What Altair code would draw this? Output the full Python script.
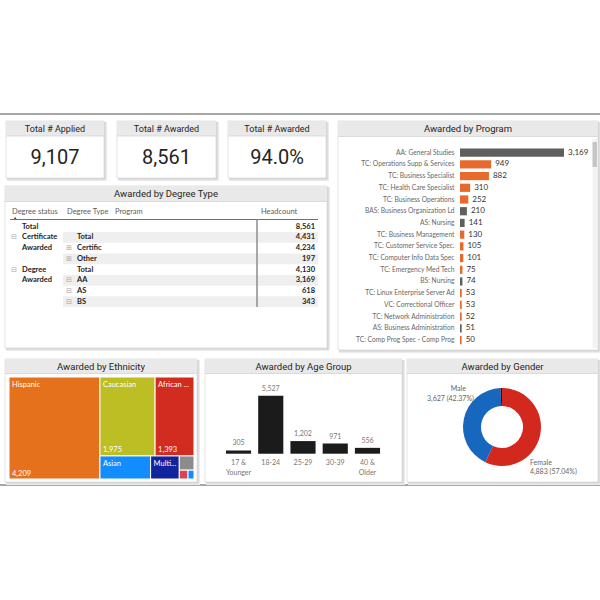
import altair as alt
import pandas as pd

# ---------------- data ----------------
applied = 9107
awarded = 8561

ds_labels = ["Total", "Certificate", "Awarded", "", "Degree", "Awarded", "", ""]
dt_labels = ["", "Total", "Certific", "Other", "Total", "AA", "AS", "BS"]
ds_icons = ["", "⊟", "", "", "⊟", "", "", ""]
dt_icons = ["", "", "⊞", "⊞", "", "⊟", "⊟", "⊟"]
headcount = [8561, 4431, 4234, 197, 4130, 3169, 618, 343]

prog_names = ["AA: General Studies", "TC: Operations Supp & Services", "TC: Business Specialist",
              "TC: Health Care Specialist", "TC: Business Operations", "BAS: Business Organization Ld",
              "AS: Nursing", "TC: Business Management", "TC: Customer Service Spec.",
              "TC: Computer Info Data Spec", "TC: Emergency Med Tech", "BS: Nursing",
              "TC: Linux Enterprise Server Ad", "VC: Correctional Officer", "TC: Network Administration",
              "AS: Business Administration", "TC: Comp Prog Spec - Comp Prog"]
prog_values = [3169, 949, 882, 310, 252, 210, 141, 130, 105, 101, 75, 74, 53, 53, 52, 51, 50]
degree_prefixes = ["AA", "AS", "BAS", "BS"]

eth_names = ["Hispanic", "Caucasian", "African American", "Asian", "Multiracial", "Unknown",
             "American Indian", "Pacific Islander"]
eth_short = ["Hispanic", "Caucasian", "African ...", "Asian", "Multi...", "", "", ""]
eth_values = [4209, 1975, 1393, 530, 300, 95, 35, 24]

age_groups = ["17 & Younger", "18-24", "25-29", "30-39", "40 & Older"]
age_values = [305, 5527, 1202, 971, 556]

genders = ["Female", "Male", "Unknown"]
gender_values = [4883, 3627, 51]

# ---------------- style ----------------
TITLE = "Roboto"
UI = "Lato"
DARK = "#252423"
GREY = "#605E5C"
ORANGE = "#E8692C"
DEGGREY = "#5F5F5F"

ONE = pd.DataFrame({"k": [0]})
L = []


def rect(x0, y0, x1, y1, **kw):
    L.append(alt.Chart(ONE).mark_rect(**kw).encode(
        x=alt.value(x0), x2=alt.value(x1), y=alt.value(y0), y2=alt.value(y1)))


def hline(x0, x1, y, color, w=1.0):
    L.append(alt.Chart(ONE).mark_rule(color=color, strokeWidth=w).encode(
        x=alt.value(x0), x2=alt.value(x1), y=alt.value(y)))


def vline(x, y0, y1, color, w=1.0):
    L.append(alt.Chart(ONE).mark_rule(color=color, strokeWidth=w).encode(
        x=alt.value(x), y=alt.value(y0), y2=alt.value(y1)))


def label(txt, x, y, size=9.0, color=DARK, font=TITLE, align="center", weight="normal", baseline="middle"):
    L.append(alt.Chart(ONE).mark_text(text=txt, fontSize=size, color=color, font=font, align=align,
                                      fontWeight=weight, baseline=baseline).encode(
        x=alt.value(x), y=alt.value(y)))


def panel(x0, y0, x1, y1, title, band=14.5, size=9.5):
    rect(x0 + 1, y0 + 1, x1 + 3, y1 + 3, color="#ebebeb")
    rect(x0 + 1, y0 + 1, x1 + 1.5, y1 + 1.5, color="#d2d2d2")
    rect(x0, y0, x1, y1, fill="white", stroke="#dcdcdc", strokeWidth=0.8)
    rect(x0, y0, x1, y0 + band, color="#e9e9e9")
    hline(x0, x1, y0 + band, "#d4d4d4", 0.8)
    label(title, (x0 + x1) / 2, y0 + band / 2 + 0.5, size=size)


# page rules
hline(0, 600, 114, "#8a8a8a", 1.5)
hline(0, 600, 485, "#8a8a8a", 1.5)

# ---------------- KPI cards ----------------
kdf = pd.DataFrame({"applied": [applied], "awarded": [awarded]})
kpis = [("Total # Applied", "applied", ",", 6, 104),
        ("Total # Awarded", "awarded", ",", 117, 216),
        ("Total # Awarded", "rate", ".1%", 228, 326)]
for title, field, fmt, x0, x1 in kpis:
    panel(x0, 121, x1, 178, title, band=15, size=9)
    L.append(alt.Chart(kdf).transform_calculate(rate="datum.awarded / datum.applied")
             .mark_text(font=TITLE, fontSize=20, color=DARK, align="center", baseline="middle")
             .encode(x=alt.value((x0 + x1) / 2), y=alt.value(157.5),
                     text=alt.Text(f"{field}:Q", format=fmt)))

# ---------------- matrix ----------------
panel(5, 186, 327, 348, "Awarded by Degree Type", band=15.5)
for txt, x in [("Degree status", 12), ("Degree Type", 67), ("Program", 115), ("Headcount", 261)]:
    label(txt, x, 211.5, size=7.5, color=GREY, font=UI, align="left")
label("▲", 15, 218.3, size=3.5, color="#333333", font="DejaVu Sans")
hline(10, 318, 219.5, "#6f6f6f", 1)

mdf = pd.DataFrame({"i": list(range(len(headcount))), "ds": ds_labels, "dt": dt_labels,
                    "ic1": ds_icons, "ic2": dt_icons, "hc": headcount})
mscale = alt.Scale(domain=[0, 7], range=[226.7, 301.7], nice=False, zero=False)
L.append(alt.Chart(mdf).transform_filter("datum.i % 2 == 1")
         .transform_calculate(lo="datum.i - 0.5", hi="datum.i + 0.5")
         .mark_rect(color="#efefef")
         .encode(x=alt.value(63), x2=alt.value(318),
                 y=alt.Y("lo:Q", scale=mscale, axis=None), y2="hi:Q"))
vline(257, 219.5, 307, "#8c8c8c", 1.5)
my = alt.Y("i:Q", scale=mscale, axis=None)
L.append(alt.Chart(mdf).mark_text(font=UI, fontSize=7.5, fontWeight="bold", color=DARK, align="left",
                                  baseline="middle").encode(x=alt.value(22), y=my, text="ds:N"))
L.append(alt.Chart(mdf).mark_text(font=UI, fontSize=7.5, fontWeight="bold", color=DARK, align="left",
                                  baseline="middle").encode(x=alt.value(77), y=my, text="dt:N"))
L.append(alt.Chart(mdf).mark_text(font="DejaVu Sans", fontSize=7, color="#a6a6a6", align="left",
                                  baseline="middle").encode(x=alt.value(11), y=my, text="ic1:N"))
L.append(alt.Chart(mdf).mark_text(font="DejaVu Sans", fontSize=7, color="#a6a6a6", align="left",
                                  baseline="middle").encode(x=alt.value(66), y=my, text="ic2:N"))
L.append(alt.Chart(mdf).mark_text(font=UI, fontSize=7.5, fontWeight="bold", color=DARK, align="right",
                                  baseline="middle").encode(x=alt.value(315), y=my,
                                                            text=alt.Text("hc:Q", format=",")))

# ---------------- program bars ----------------
panel(338, 121, 598, 350, "Awarded by Program", band=15.5)
rect(592.5, 139, 597, 348, color="#f3f3f3")
rect(592.5, 142, 597, 167, color="#c6c6c6")
pdf = pd.DataFrame({"program": prog_names, "n": prog_values})
pdf["kind"] = ["Degree" if p.split(":")[0] in degree_prefixes else "Certificate" for p in prog_names]
py = alt.Y("program:N", scale=alt.Scale(domain=prog_names, range=[146.8, 345.9],
                                        paddingInner=0.3, paddingOuter=0.15), axis=None)
px = alt.X("n:Q", scale=alt.Scale(domain=[0, 3169], range=[460, 564], nice=False, zero=True), axis=None)
L.append(alt.Chart(pdf).mark_bar().encode(
    x=px, y=py,
    color=alt.Color("kind:N", scale=alt.Scale(domain=["Degree", "Certificate"], range=[DEGGREY, ORANGE]),
                    legend=None)))
L.append(alt.Chart(pdf).mark_text(font=UI, fontSize=6.7, color="#6a6866", align="right", baseline="middle")
         .encode(x=alt.value(454.5), y=py, text="program:N"))
L.append(alt.Chart(pdf).mark_text(font=UI, fontSize=8, color="#333333", align="left", baseline="middle", dx=4)
         .encode(x=px, y=py, text=alt.Text("n:Q", format=",")))


# ---------------- ethnicity treemap ----------------
def squarify(values, x, y, w, h):
    total = float(sum(values))
    areas = [v * w * h / total for v in values]
    out = []
    i = 0
    while i < len(areas):
        short = min(w, h)

        def worst(r):
            s = sum(r)
            return max(max(short * short * a / (s * s), s * s / (short * short * a)) for a in r)

        row = [areas[i]]
        i += 1
        while i < len(areas) and worst(row + [areas[i]]) <= worst(row):
            row.append(areas[i])
            i += 1
        s = sum(row)
        if w >= h:
            cw = s / h
            yy = y
            for a in row:
                ch = a / cw
                out.append((x, yy, x + cw, yy + ch))
                yy += ch
            x += cw
            w -= cw
        else:
            rh = s / w
            xx = x
            for a in row:
                cw = a / rh
                out.append((xx, y, xx + cw, y + rh))
                xx += cw
            y += rh
            h -= rh
    return out


TW, TH = 185.0, 102.0
cells = squarify(eth_values, 0, 0, TW, TH)
edf = pd.DataFrame({"eth": eth_names, "lab": eth_short, "n": eth_values,
                    "x0": [c[0] for c in cells], "y0": [c[1] for c in cells],
                    "x1": [c[2] for c in cells], "y1": [c[3] for c in cells]})
panel(5, 359, 197, 482, "Awarded by Ethnicity", band=14.5)
tx = alt.Scale(domain=[0, TW], range=[9, 194], nice=False, zero=False)
ty = alt.Scale(domain=[0, TH], range=[377, 479], nice=False, zero=False)
L.append(alt.Chart(edf).mark_rect(stroke="white", strokeWidth=1).encode(
    x=alt.X("x0:Q", scale=tx, axis=None), x2="x1:Q",
    y=alt.Y("y0:Q", scale=ty, axis=None), y2="y1:Q",
    color=alt.Color("eth:N", scale=alt.Scale(domain=eth_names,
                                             range=["#E5711D", "#BDBE23", "#D22B1F", "#118DFF", "#12239E",
                                                    "#8C8C8C", "#D64550", "#118DFF"]), legend=None)))
L.append(alt.Chart(edf).mark_text(font=UI, fontSize=7.5, color="white", align="left", baseline="top",
                                  dx=3, dy=4).encode(
    x=alt.X("x0:Q", scale=tx, axis=None), y=alt.Y("y0:Q", scale=ty, axis=None), text="lab:N"))
L.append(alt.Chart(edf).transform_filter("datum.y1 - datum.y0 > 40")
         .mark_text(font=UI, fontSize=7.5, color="white", align="left", baseline="bottom", dx=3, dy=-1.5)
         .encode(x=alt.X("x0:Q", scale=tx, axis=None), y=alt.Y("y1:Q", scale=ty, axis=None),
                 text=alt.Text("n:Q", format=",")))

# ---------------- age group ----------------
panel(205, 359, 402, 482, "Awarded by Age Group", band=14.5)
adf = pd.DataFrame({"g": age_groups, "n": age_values})
ax = alt.X("g:N", scale=alt.Scale(domain=age_groups, range=[222.4, 383.6], paddingInner=0.22,
                                  paddingOuter=0.11), axis=None)
ay = alt.Y("n:Q", scale=alt.Scale(domain=[0, 6000], range=[453.7, 390.7], nice=False), axis=None)
L.append(alt.Chart(adf).mark_bar(color="#1b1b1b").encode(x=ax, y=ay))
L.append(alt.Chart(adf).mark_text(font=UI, fontSize=7, color="#777777", baseline="bottom", dy=-4)
         .encode(x=ax, y=ay, text=alt.Text("n:Q", format=",")))
L.append(alt.Chart(adf).transform_calculate(lbl="replace(datum.g, ' & ', ' &\\n')")
         .mark_text(font=UI, fontSize=7, color="#777777", baseline="top", lineBreak="\n", lineHeight=10)
         .encode(x=ax, y=alt.value(459), text="lbl:N"))

# ---------------- gender donut ----------------
panel(407, 359, 598, 482, "Awarded by Gender", band=14.5)
gdf = pd.DataFrame({"gender": genders, "n": gender_values, "ord": list(range(len(genders)))})
CX, CY = 502, 427
theta = alt.Theta("n:Q", stack=True)
L.append(alt.Chart(gdf).mark_arc(innerRadius=21, outerRadius=39).encode(
    theta=theta, order=alt.Order("ord:Q"),
    color=alt.Color("gender:N", scale=alt.Scale(domain=genders, range=["#D3281E", "#1767BE", "#1a1a1a"]),
                    legend=None),
    x=alt.value(CX), y=alt.value(CY)))


def glabel(who, kind, align, dx, dy):
    if kind == "name":
        expr = f"datum.gender == '{who}' ? datum.gender : ''"
    else:
        expr = (f"datum.gender == '{who}' ? format(datum.n, ',') + ' (' + "
                f"format(datum.n / datum.tot, '.2%') + ')' : ''")
    L.append(alt.Chart(gdf).transform_joinaggregate(tot="sum(n)").transform_calculate(t=expr)
             .mark_text(radius=45, font=UI, fontSize=7, color="#666666", align=align, baseline="middle",
                        dx=dx, dy=dy)
             .encode(theta=theta, order=alt.Order("ord:Q"), text="t:N", x=alt.value(CX), y=alt.value(CY)))


glabel("Male", "name", "right", 8, -29)
glabel("Male", "value", "right", 16, -19)
glabel("Female", "name", "left", -16, 26)
glabel("Female", "value", "left", -16, 35)

chart = (alt.layer(*L)
         .resolve_scale(x="independent", y="independent", color="independent", theta="independent")
         .properties(width=600, height=600, padding=0, autosize="none", background="white")
         .configure_view(stroke=None))

chart.save("out.html", embed_options={"renderer": "svg", "actions": False})
